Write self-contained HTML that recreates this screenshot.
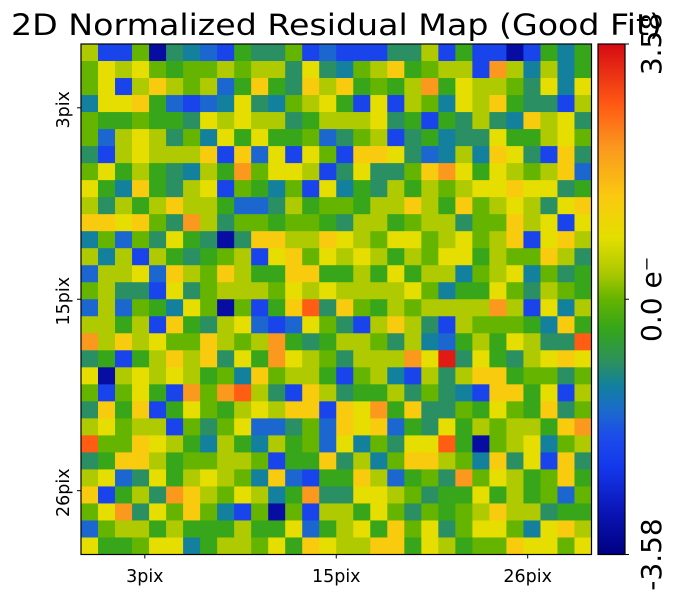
<!DOCTYPE html>
<html><head><meta charset="utf-8">
<style>
html,body{margin:0;padding:0;background:#fff;}
svg{display:block;font-family:"DejaVu Sans","Liberation Sans",sans-serif;}
</style></head>
<body>
<svg id="chart" width="673" height="604" viewBox="0 0 673 604" xmlns="http://www.w3.org/2000/svg">
<defs><linearGradient id="cbgrad" x1="0" y1="1" x2="0" y2="0"></linearGradient></defs>
<text x="11" y="35" font-size="29" textLength="651" lengthAdjust="spacingAndGlyphs" fill="#000">2D Normalized Residual Map (Good Fit)</text>
<g id="cells"></g>
<rect x="81" y="44" width="510.5" height="510.5" fill="none" stroke="#000" stroke-width="1.2"/>
<g id="xaxis"></g>
<g id="yaxis"></g>
<rect x="598" y="44" width="27" height="510.5" fill="url(#cbgrad)" stroke="#000" stroke-width="1.2"/>
<g id="cbaxis"></g>
</svg>
<script>
const xTickIndex = [3.75, 15, 26.25];
const xTickLabels = ["3pix", "15pix", "26pix"];
const yTickIndex = [3.75, 15, 26.25];
const yTickLabels = ["3pix", "15pix", "26pix"];
const vmin = -3.58;
const vmax = 3.58;
const cbTickValues = [-3.58, 0, 3.58];
const cbTickLabels = ["-3.58", "0.0 e\u207B", "3.58"];
const residuals = [
[0.4,-2.1,-2.1,0,-3.2,-0.9,-1.2,-1.6,-2.1,-0.4,-0.9,-0.9,0,-2.1,-1.6,-2.1,-2.1,-2.1,-0.9,-0.9,0.4,-2.1,-0.4,-2.1,-2.1,-3.2,-2.1,-0.4,-1.2,-0.4],
[0,0.9,0.4,0.9,0,-0.4,0,0,0.4,0,0.4,0.4,-0.9,0.9,-0.9,-1.2,0,0.4,1.4,-0.4,0,0.4,0.4,-2.1,2.1,0.4,-1.2,0.4,-1.2,-0.4],
[0,0.9,-2.1,0.4,1.4,0.4,0,0.4,-1.6,-0.4,1.4,-0.4,-0.9,1.4,0.4,1.4,-0.4,0,-0.4,0.4,2.1,-0.4,0.9,0.4,0.4,0,-0.9,0.9,-1.2,0.9],
[-1.2,0.9,0.9,1.4,-0.4,-1.6,-2.1,-1.6,-1.2,0.9,-0.9,-1.2,0,0.4,0.9,-0.4,-2.1,0.9,-2.1,0.4,0,-1.2,0.9,0.4,1.4,-0.4,-0.9,-0.9,-2.1,0.4],
[0,-0.4,-0.4,0,-0.4,-0.4,-0.9,0.9,0.4,0.9,0.4,0.4,-0.9,-0.4,0.4,0.4,0.4,0.9,-0.9,-0.4,-2.1,-0.4,-0.9,0.4,-0.9,-1.2,1.4,0.4,0.9,-0.9],
[0,-1.6,0.4,0.9,0.4,-0.9,0,-1.2,0.9,-0.4,0.9,-0.4,-0.4,0,-1.6,-0.9,0,0.4,-2.1,-0.9,-0.4,-1.2,-0.9,-0.9,0.9,-0.4,-0.4,0.4,0.9,0],
[-0.9,-2.1,0.4,0.9,0.4,0.4,0.4,1.4,-2.1,1.4,-1.6,0.9,-2.1,0.9,0,-2.1,1.4,1.4,0.9,-0.9,-1.6,-1.2,0.4,-1.2,1.4,0.9,-0.9,-2.1,1.4,-0.9],
[0,0.9,-0.4,0.4,-0.4,-0.9,-1.2,0.4,-0.4,2.1,0,0.9,0.9,0.4,-2.1,-0.9,0.9,-0.9,-0.9,0,1.4,2.1,0.9,-0.4,0.9,0.4,0,0.4,1.4,-1.6],
[0.9,-0.4,-1.2,1.4,-0.4,-0.9,0.4,0.9,-2.1,0,-0.4,-1.2,0,-2.1,0.9,-1.2,-0.4,-0.9,0.4,-0.4,0.4,0,0.4,0.9,0.9,1.4,0.9,0.9,-0.9,-0.4],
[0.4,-0.9,0.4,-0.4,0.4,1.4,0.4,0.4,-0.4,-1.6,-1.6,-0.9,0.4,-0.4,0,0,-0.4,0.4,0.4,1.4,0.4,-0.4,1.4,0,0.4,0.9,0.4,-0.9,0.9,1.4],
[1.4,1.4,0.9,1.4,0,-0.9,2.1,0.4,-0.9,0,0,-0.4,0,0,-0.4,-0.9,0.4,0.4,-0.4,0,0.4,0.4,-0.9,0,0,1.4,0.4,0.9,-2.1,0.9],
[-1.2,0,-1.6,0,-0.9,0.9,-0.4,-0.9,-3.2,-0.9,1.4,1.4,0.4,0.4,1.4,0.9,0.4,0,0.9,0.9,0,0.4,0.9,0,0.4,1.4,-2.1,0.9,1.4,0.4],
[0.4,-1.2,0.4,-2.1,0.4,-0.4,-0.9,-0.4,0,0.4,-2.1,0.9,1.4,0,0.9,0.4,0.9,0.4,-0.4,0.4,0,0.9,0.9,-0.4,0.4,0,0,1.4,0.4,-0.9],
[-1.6,0.4,0.4,0.9,-1.6,1.4,0.4,0,1.4,0.4,-0.4,-0.4,1.4,1.4,-0.4,-0.4,0.4,-0.4,0.9,-0.4,0.4,0.4,-1.2,0,0.4,0.9,-1.2,0,-0.9,-0.4],
[0,0.4,-0.9,-0.9,-2.1,0.9,-0.9,0,0.4,0.4,0.4,0,0.9,0.4,0.9,0.4,0.4,0.4,0.4,0.9,0,-1.2,-0.4,-0.4,0.9,0,-0.9,0.4,0,-0.4],
[-1.6,0.4,-1.6,0,-0.4,-1.2,0.9,0,-3.2,0,-2.1,-0.4,1.4,2.7,-0.9,1.4,0,-0.4,0.4,0,0.4,0.4,0.4,0.4,2.1,0.4,-2.1,0.9,-1.2,0.4],
[0.4,0.4,-0.4,0.4,-2.1,1.4,-0.4,-0.9,0.4,0.9,-1.6,-2.1,-1.6,0.9,0,-0.9,-2.1,0.4,1.4,0.4,-0.9,-2.1,0.4,0,0,0,-0.4,-1.2,1.4,-0.4],
[2.1,0.4,1.4,0.4,0.9,0,0,1.4,0.4,0,0.4,2.1,-0.4,-0.9,-0.4,0.4,0.4,0,-0.9,0.4,-1.2,-1.6,-0.4,0.4,-0.4,0.9,0.4,-0.9,-0.9,2.7],
[-0.9,-0.4,-2.1,-0.4,0.4,1.4,0.4,1.4,-0.9,0.9,-0.4,2.1,0.9,0.4,0,-0.9,0.4,0.4,0.4,2.1,0.9,3.4,-0.9,0.9,-0.4,-0.9,0.4,0.9,1.4,0.9],
[0.9,-3.2,0.4,0.9,0.4,0.9,0.4,-0.4,0,-1.2,1.4,0,0.4,0.4,-0.4,-2.1,0,0.4,-1.2,-2.1,0.4,-0.9,0.4,1.4,1.4,-0.4,0,0,-0.9,0],
[0,-2.1,0,0.9,-0.4,-2.1,2.1,0,2.1,2.7,0.4,-0.9,-2.1,1.4,0.4,-0.9,-0.4,-0.4,0.4,-0.9,0,-0.9,-1.2,-2.1,1.4,1.4,-0.4,0.9,-2.1,0.4],
[-0.9,1.4,-0.4,1.4,-2.1,-0.4,0.9,0,-0.4,0.4,0.9,0.4,1.4,1.4,-2.1,1.4,0.9,2.1,-0.4,1.4,-0.9,-0.9,0,-0.4,0.9,0,-0.4,1.4,-0.9,0],
[0.4,0.9,0,0.4,0.4,-2.1,0,-0.9,0,0.9,-1.6,-1.6,-0.9,0,-1.6,1.4,0.9,1.4,-1.6,-0.4,-0.9,0.9,-0.4,0.4,0,0.4,0.4,-0.4,1.4,2.1],
[2.7,0,0,1.4,0.9,0.4,-0.4,-1.2,0.4,-0.4,-1.2,0.4,-0.4,0,-1.6,0.9,-1.2,0,-0.9,0.9,0.9,2.7,-0.4,-3.2,0,0.4,0.9,-1.2,0,0.4],
[-0.9,-0.4,1.4,1.4,0.4,-0.4,0,0,0.4,0.4,0,-2.1,-0.4,-0.4,1.4,-0.9,0.4,-1.2,0,1.4,1.4,0.4,0,-1.2,1.4,-0.9,0.9,-2.1,1.4,-0.9],
[0.4,0.9,-1.6,-0.9,0.9,-0.4,0.4,0.9,0.4,0,-1.2,1.4,-1.6,-2.1,-0.4,-0.4,1.4,0.4,-1.6,-0.4,0,-0.9,2.1,0,0.9,0.4,-0.4,0,1.4,-0.4],
[1.4,-2.1,-0.4,0.4,-0.9,2.1,1.4,0.4,0,0.9,0.4,-1.2,-0.4,2.1,-0.9,-0.9,0.9,0.9,0.4,0,-0.9,-0.4,-0.4,0.9,-0.4,0.4,-0.4,0,-1.6,0],
[0,0.9,2.1,-0.9,0.9,0,1.4,0,-1.2,-2.1,0,-3.2,0,-2.1,0.4,0.4,-0.4,0.9,0,-0.9,0,-0.4,0,0.4,1.4,0.4,0.4,-0.9,-0.4,-0.4],
[-1.6,0,0.4,0.4,-0.4,0.4,-0.4,-0.4,-0.4,0.4,-0.4,-0.4,0.9,-1.6,-0.4,0.4,0.9,-0.4,1.4,0,0.9,-0.9,0,0.9,0.9,0,-1.2,0.9,1.4,0.4],
[0.9,-0.4,-0.4,0,0.9,0.9,-1.2,-0.4,0.4,0.4,0,0.9,-0.4,1.4,0.9,0.4,0.4,1.4,1.4,-0.4,0.9,0.4,-0.4,0,0,1.4,0.9,0.9,0,0.9]
];

const NS = "http://www.w3.org/2000/svg";
const PX0 = 81, PY0 = 44, PW = 510.5, PH = 510.5;
const nRows = residuals.length, nCols = residuals[0].length;
const cw = PW / nCols, ch = PH / nRows;
function xOf(i){ return PX0 + i * cw; }
function yOf(j){ return PY0 + j * ch; }
const CB_Y0 = 44, CB_H = 510.5, CB_X = 598, CB_W = 27;
function cbY(v){ return CB_Y0 + CB_H * (1 - (v - vmin) / (vmax - vmin)); }

const cmapStops = [
 [0.00,[0,0,130]],[0.08,[10,20,180]],[0.17,[20,55,235]],[0.23,[28,75,235]],
 [0.28,[28,105,205]],[0.33,[18,128,160]],[0.38,[45,145,90]],[0.44,[52,165,28]],
 [0.50,[100,180,0]],[0.55,[170,200,0]],[0.62,[228,222,0]],[0.70,[250,202,15]],
 [0.80,[250,150,30]],[0.88,[255,90,20]],[1.00,[215,10,20]]
];
function cmap(v){
  let t = (v - vmin) / (vmax - vmin);
  t = Math.max(0, Math.min(1, t));
  for (let k = 1; k < cmapStops.length; k++) {
    if (t <= cmapStops[k][0]) {
      const a = cmapStops[k-1], b = cmapStops[k];
      const f = (t - a[0]) / (b[0] - a[0]);
      const c = a[1].map((x, i) => Math.round(x + (b[1][i] - x) * f));
      return "rgb(" + c.join(",") + ")";
    }
  }
  return "rgb(215,10,20)";
}

const cells = document.getElementById("cells");
residuals.forEach((row, j) => {
  row.forEach((v, i) => {
    const r = document.createElementNS(NS, "rect");
    r.setAttribute("x", xOf(i));
    r.setAttribute("y", yOf(j));
    r.setAttribute("width", cw + 0.4);
    r.setAttribute("height", ch + 0.4);
    r.setAttribute("fill", cmap(v));
    
    
    cells.appendChild(r);
  });
});

const grad = document.getElementById("cbgrad");
for (let k = 0; k < cmapStops.length; k++) {
  const s = document.createElementNS(NS, "stop");
  s.setAttribute("offset", cmapStops[k][0]);
  s.setAttribute("stop-color", "rgb(" + cmapStops[k][1].join(",") + ")");
  grad.appendChild(s);
}

const xaxis = document.getElementById("xaxis");
xTickIndex.forEach((ti, k) => {
  const x = xOf(ti);
  const l = document.createElementNS(NS, "line");
  l.setAttribute("x1", x); l.setAttribute("x2", x);
  l.setAttribute("y1", PY0 + PH); l.setAttribute("y2", PY0 + PH + 4);
  l.setAttribute("stroke", "#000");
  
  
  xaxis.appendChild(l);
  const t = document.createElementNS(NS, "text");
  t.setAttribute("x", x); t.setAttribute("y", 582);
  t.setAttribute("text-anchor", "middle");
  t.setAttribute("font-size", "17.5");
  t.textContent = xTickLabels[k];
  
  
  xaxis.appendChild(t);
});

const yaxis = document.getElementById("yaxis");
yTickIndex.forEach((ti, k) => {
  const y = yOf(ti);
  const l = document.createElementNS(NS, "line");
  l.setAttribute("x1", PX0 - 4); l.setAttribute("x2", PX0);
  l.setAttribute("y1", y); l.setAttribute("y2", y);
  l.setAttribute("stroke", "#000");
  
  
  yaxis.appendChild(l);
  const t = document.createElementNS(NS, "text");
  t.setAttribute("transform", "translate(69," + (y + 2) + ") rotate(-90)");
  t.setAttribute("text-anchor", "middle");
  t.setAttribute("font-size", "17.5");
  t.textContent = yTickLabels[k];
  
  
  yaxis.appendChild(t);
});

const cbaxis = document.getElementById("cbaxis");
cbTickValues.forEach((v, k) => {
  const y = cbY(v);
  const l = document.createElementNS(NS, "line");
  l.setAttribute("x1", CB_X + CB_W); l.setAttribute("x2", CB_X + CB_W + 4);
  l.setAttribute("y1", y); l.setAttribute("y2", y);
  l.setAttribute("stroke", "#000");
  
  
  cbaxis.appendChild(l);
  const t = document.createElementNS(NS, "text");
  t.setAttribute("transform", "translate(661," + y + ") rotate(-90)");
  t.setAttribute("text-anchor", "middle");
  t.setAttribute("font-size", "28");
  t.textContent = cbTickLabels[k];
  
  
  cbaxis.appendChild(t);
});
</script>
</body></html>
